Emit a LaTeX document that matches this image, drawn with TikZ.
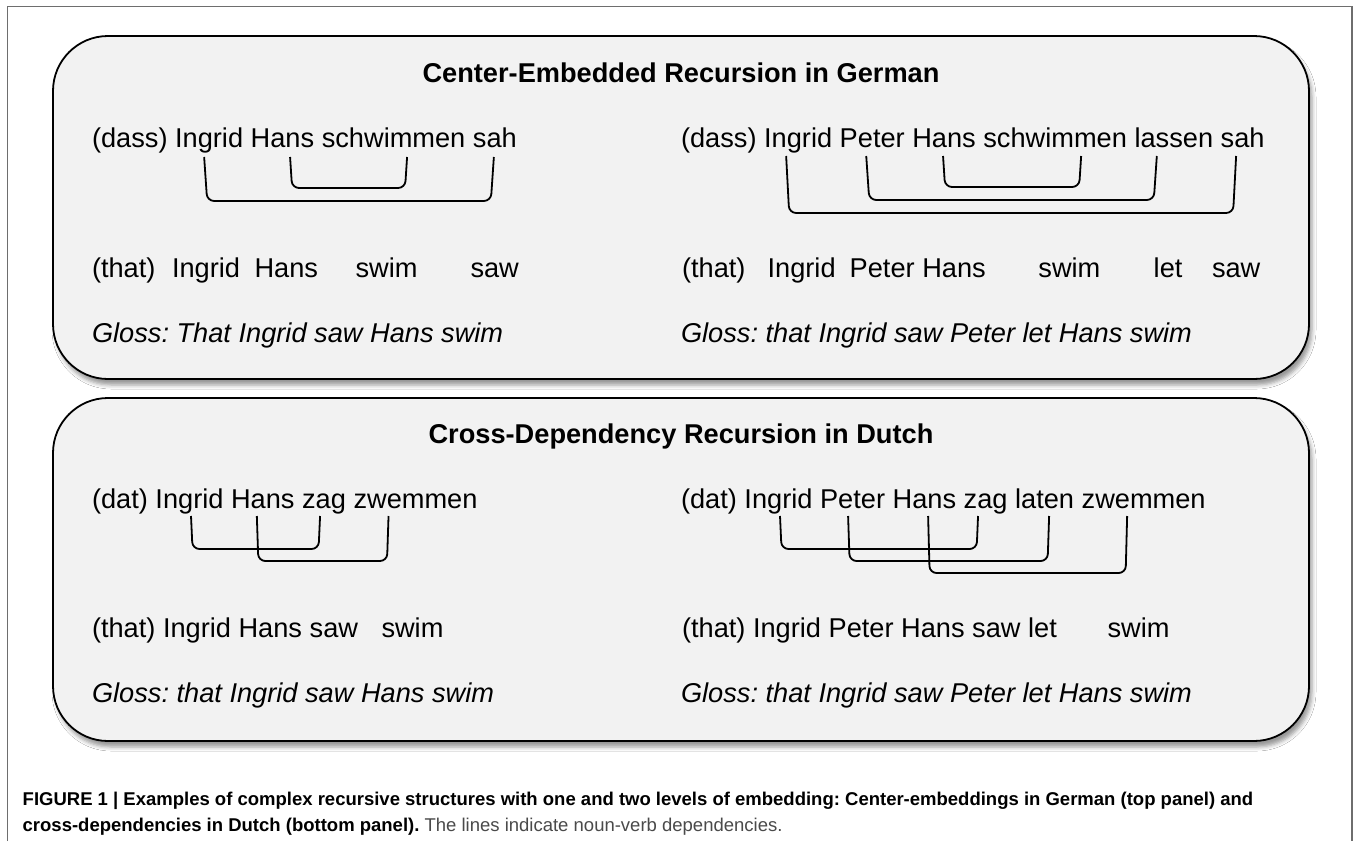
\documentclass[tikz,border=0pt]{standalone}
\usepackage{fontspec}
\setmainfont{Liberation Sans}
\frenchspacing
\usetikzlibrary{shadows.blur}
\definecolor{panelfill}{HTML}{F2F2F2}
\definecolor{framegray}{HTML}{6E6E6E}
\definecolor{captext}{HTML}{4A4A4A}
\newcommand\wordfont{\fontsize{27.2}{32}\selectfont}
\newcommand\capfont{\fontsize{18.5}{26}\selectfont}
\begin{document}
\begin{tikzpicture}[x=1pt,y=-1pt,
  panel/.style={draw=black, line width=1.8pt, fill=panelfill, rounded corners=55pt,
    blur shadow={shadow xshift=3pt, shadow yshift=-6pt, shadow blur radius=4pt, shadow opacity=40}},
  wd/.style={inner sep=0pt, outer sep=0pt, font=\wordfont},
  ttl/.style={inner sep=0pt, outer sep=0pt, font=\wordfont\bfseries, anchor=base},
  gloss/.style={inner sep=0pt, outer sep=0pt, font=\wordfont\itshape, anchor=base west},
  follow/.style={anchor=base west, at={(#1.base east)}, xshift=7.56pt},
  brk/.style={line width=1.8pt, rounded corners=7pt},
  capt/.style={inner sep=0pt, outer sep=0pt, font=\capfont, anchor=base west}]
\useasboundingbox (0,0) rectangle (1357,841);
\fill[white] (0,0) rectangle (1357,841);
\draw[framegray, line width=1.5pt] (7.5,841) -- (7.5,6.7) -- (1352,6.7) -- (1352,841);

% panels
\path[panel] (53,36) rectangle (1309,379);
\path[panel] (53,398) rectangle (1309,741);

% ---------- top panel ----------
\node[ttl] (t1) at (681,82) {Center-Embedded Recursion in German};

\node[wd, anchor=base west] (gA1) at (92,147) {(dass)};
\node[wd, follow=gA1] (gA2) {Ingrid};
\node[wd, follow=gA2] (gA3) {Hans};
\node[wd, follow=gA3] (gA4) {schwimmen};
\node[wd, follow=gA4] (gA5) {sah};

\draw[brk] ([xshift=-5pt,yshift=-10pt]gA2.base) -- ++(3,44) -- ([xshift=-4pt,yshift=-54pt]gA5.base) -- ([xshift=-1pt,yshift=-10pt]gA5.base);
\draw[brk] ([xshift=7.6pt,yshift=-10pt]gA3.base) -- ++(2,31) -- ([xshift=11.5pt,yshift=-41pt]gA4.base) -- ([xshift=13.5pt,yshift=-10pt]gA4.base);

\node[wd, anchor=base west] (eA1) at (92,277) {(that)};
\node[wd, anchor=base west] (eA2) at (172,277) {Ingrid};
\node[wd, anchor=base west] (eA3) at (254.5,277) {Hans};
\node[wd, anchor=base west] (eA4) at (355.6,277) {swim};
\node[wd, anchor=base west] (eA5) at (470.5,277) {saw};

\node[gloss] (glA) at (92,342) {Gloss: That Ingrid saw Hans swim};

\node[wd, anchor=base west] (gB1) at (681,147) {(dass)};
\node[wd, follow=gB1] (gB2) {Ingrid};
\node[wd, follow=gB2] (gB3) {Peter};
\node[wd, follow=gB3] (gB4) {Hans};
\node[wd, follow=gB4] (gB5) {schwimmen};
\node[wd, follow=gB5] (gB6) {lassen};
\node[wd, follow=gB6] (gB7) {sah};

\draw[brk] ([xshift=-12pt,yshift=-9pt]gB2.base) -- ++(3,57) -- ([xshift=-9.5pt,yshift=-66pt]gB7.base) -- ([xshift=-6.5pt,yshift=-9pt]gB7.base);
\draw[brk] ([xshift=-6pt,yshift=-9pt]gB3.base) -- ++(3,44) -- ([xshift=-20pt,yshift=-53pt]gB6.base) -- ([xshift=-17pt,yshift=-9pt]gB6.base);
\draw[brk] ([xshift=-1pt,yshift=-9pt]gB4.base) -- ++(2,31) -- ([xshift=24pt,yshift=-40pt]gB5.base) -- ([xshift=26pt,yshift=-9pt]gB5.base);

\node[wd, anchor=base west] (eB1) at (682,277) {(that)};
\node[wd, anchor=base west] (eB2) at (767.6,277) {Ingrid};
\node[wd, anchor=base west] (eB3) at (849.7,277) {Peter};
\node[wd, follow=eB3] (eB4) {Hans};
\node[wd, anchor=base west] (eB5) at (1038.4,277) {swim};
\node[wd, anchor=base west] (eB6) at (1153.7,277) {let};
\node[wd, anchor=base west] (eB7) at (1212,277) {saw};

\node[gloss] (glB) at (681,342) {Gloss: that Ingrid saw Peter let Hans swim};

% ---------- bottom panel ----------
\node[ttl] (t2) at (681,443) {Cross-Dependency Recursion in Dutch};

\node[wd, anchor=base west] (dA1) at (92,508) {(dat)};
\node[wd, follow=dA1] (dA2) {Ingrid};
\node[wd, follow=dA2] (dA3) {Hans};
\node[wd, follow=dA3] (dA4) {zag};
\node[wd, follow=dA4] (dA5) {zwemmen};

\draw[brk] ([xshift=1.5pt,yshift=-8pt]dA2.base) -- ++(1.5,33) -- ([xshift=-5.5pt,yshift=-41pt]dA4.base) -- ([xshift=-4pt,yshift=-8pt]dA4.base);
\draw[brk] ([xshift=-6pt,yshift=-8pt]dA3.base) -- ++(1.5,45) -- ([xshift=-28.5pt,yshift=-53pt]dA5.base) -- ([xshift=-27pt,yshift=-8pt]dA5.base);

\node[wd, anchor=base west] (fA1) at (92,637) {(that) Ingrid Hans saw};
\node[wd, anchor=base west] (fA2) at (381.5,637) {swim};

\node[gloss] (glC) at (92,702) {Gloss: that Ingrid saw Hans swim};

\node[wd, anchor=base west] (dB1) at (681,508) {(dat)};
\node[wd, follow=dB1] (dB2) {Ingrid};
\node[wd, follow=dB2] (dB3) {Peter};
\node[wd, follow=dB3] (dB4) {Hans};
\node[wd, follow=dB4] (dB5) {zag};
\node[wd, follow=dB5] (dB6) {laten};
\node[wd, follow=dB6] (dB7) {zwemmen};

\draw[brk] ([xshift=1.5pt,yshift=-8pt]dB2.base) -- ++(1.5,33) -- ([xshift=-9pt,yshift=-41pt]dB5.base) -- ([xshift=-7.6pt,yshift=-8pt]dB5.base);
\draw[brk] ([xshift=-4.5pt,yshift=-8pt]dB3.base) -- ++(1.5,45) -- ([xshift=3pt,yshift=-53pt]dB6.base) -- ([xshift=4.5pt,yshift=-8pt]dB6.base);
\draw[brk] ([xshift=3.7pt,yshift=-8pt]dB4.base) -- ++(1.5,57) -- ([xshift=-18pt,yshift=-65pt]dB7.base) -- ([xshift=-16.5pt,yshift=-8pt]dB7.base);

\node[wd, anchor=base west] (fB1) at (682,637) {(that) Ingrid Peter Hans saw let};
\node[wd, anchor=base west] (fB2) at (1107.5,637) {swim};

\node[gloss] (glD) at (681,702) {Gloss: that Ingrid saw Peter let Hans swim};

% ---------- caption ----------
\node[capt] (cap1) at (22.7,805) {\bfseries FIGURE 1 | Examples of complex recursive structures with one and two levels of embedding: Center-embeddings in German (top panel) and};
\node[capt] (cap2) at (22.7,831) {\textbf{cross-dependencies in Dutch (bottom panel).} \textcolor{captext}{The lines indicate noun-verb dependencies.}};
\end{tikzpicture}
\end{document}
